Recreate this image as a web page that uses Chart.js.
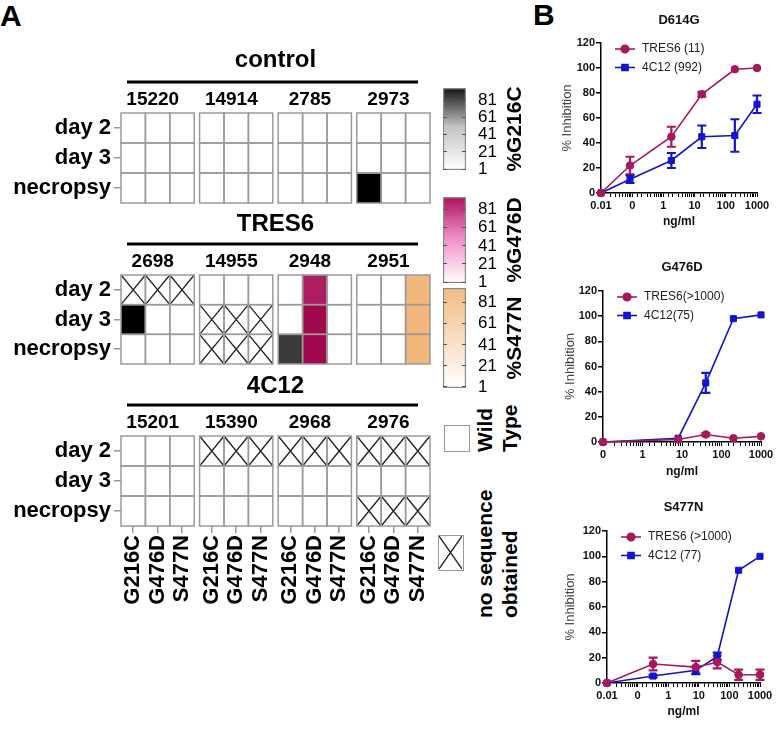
<!DOCTYPE html>
<html>
<head>
<meta charset="utf-8">
<script src="https://cdn.jsdelivr.net/npm/chart.js@4.4.1/dist/chart.umd.min.js"></script>
<style>
  body { margin: 0; background: #fff; font-family: "Liberation Sans", Arial, sans-serif; }
  #page { position: relative; width: 776px; height: 730px; overflow: hidden; background: #fff; }
  canvas { position: absolute; }
  .tag { position: absolute; font-weight: bold; font-size: 30px; line-height: 1; }
  .key { position: absolute; border: 1.5px solid #999; box-sizing: border-box; }
  .key svg { display: block; }
  .vt { position: absolute; transform-origin: 0 0; transform: rotate(-90deg); font-weight: bold; font-size: 21px; line-height: 25px; white-space: nowrap; }
</style>
</head>
<body>
<div id="page">
  <div class="tag" style="left:0;top:1px">A</div>
  <div class="tag" style="left:533px;top:0">B</div>
  <div class="key" style="left:444px;top:425px;width:26px;height:27px"></div>
  <div class="vt" style="left:472px;top:452px">Wild<br>Type</div>
  <div class="key" style="left:438px;top:535px;width:26px;height:36px"><svg width="23" height="33"><path d="M0 0L23 33M23 0L0 33" stroke="#222" stroke-width="1.3" fill="none"/></svg></div>
  <div class="vt" style="left:472px;top:618px">no sequence<br>obtained</div>
</div>
<script>
const FONT = '"Liberation Sans", Arial, sans-serif';
Chart.defaults.font.family = FONT;
Chart.defaults.color = '#000';

// ---- panel A: sequencing heatmaps ----
const rowLabels = ['day 2', 'day 3', 'necropsy'];
const mutations = ['G216C', 'G476D', 'S477N'];
const controlIds = ['15220', '14914', '2785', '2973'];
const tres6Ids = ['2698', '14955', '2948', '2951'];
const mab4c12Ids = ['15201', '15390', '2968', '2976'];
// % of reads with the mutation; rows = time points, columns = 4 animals x 3 sites; null = no sequence obtained
const controlPct = [
  [0, 0, 0, 0, 0, 0, 0, 0, 0, 0, 0, 0],
  [0, 0, 0, 0, 0, 0, 0, 0, 0, 0, 0, 0],
  [0, 0, 0, 0, 0, 0, 0, 0, 0, 100, 0, 0]
];
const tres6Pct = [
  [null, null, null, 0, 0, 0, 0, 92, 0, 0, 0, 100],
  [100, 0, 0, null, null, null, 0, 100, 0, 0, 0, 100],
  [0, 0, 0, null, null, null, 85, 100, 0, 0, 0, 100]
];
const mab4c12Pct = [
  [0, 0, 0, null, null, null, null, null, null, null, null, null],
  [0, 0, 0, 0, 0, 0, 0, 0, 0, 0, 0, 0],
  [0, 0, 0, 0, 0, 0, 0, 0, 0, null, null, null]
];
// colour ramps (0% -> 100%) for G216C, G476D, S477N
const ramps = [
  ['#ffffff', '#c4c4c4', '#000000'],
  ['#ffffff', '#f08cc8', '#a0084e'],
  ['#ffffff', '#f2b77c']
];
const scaleTicks = [1, 21, 41, 61, 81];
const scaleTop = 95;

// ---- panel B: neutralisation curves (ng/ml vs % inhibition) ----
const d614gDose = [0.01, 0.085, 1.8, 17, 195, 1000];
const d614gTres6 = [0, 22, 45, 79, 99, 100];
const d614gTres6Err = [0, 7, 8, 2, 0, 0];
const d614g4c12 = [0, 11, 26, 45, 46, 71];
const d614g4c12Err = [0, 3, 6, 9, 13, 7];

const g476dDose = [0.1, 8, 40, 200, 1000];
const g476dTres6 = [0, 2, 6, 3, 4.5];
const g476dTres6Err = [0, 0, 1, 0, 0];
const g476d4c12 = [0, 3, 47, 98, 101];
const g476d4c12Err = [0, 0, 8, 0, 0];

const s477nDose = [0.01, 0.32, 8, 40, 200, 1000];
const s477nTres6 = [0, 15, 12.5, 16.5, 6.5, 6.5];
const s477nTres6Err = [0, 5, 5, 5, 4, 4];
const s477n4c12 = [0, 5.5, 10, 21, 89, 100];
const s477n4c12Err = [0, 1, 3, 3, 0, 0];

const doseTicksA = [0.01, 0.1, 1, 10, 100, 1000];
const doseTextA = ['0.01', '0', '1', '10', '100', '1000'];
const doseTicksB = [0.1, 1, 10, 100, 1000];
const doseTextB = ['0', '1', '10', '100', '1000'];

const page = document.getElementById('page');
function addCanvas(left, top, w, h) {
  const c = document.createElement('canvas');
  c.width = w; c.height = h;
  c.style.left = left + 'px'; c.style.top = top + 'px';
  c.style.width = w + 'px'; c.style.height = h + 'px';
  page.appendChild(c);
  return c;
}
function fixBox(size) {
  return s => {
    if (s.isHorizontal()) s.height = size; else s.width = size;
    s.paddingLeft = s.paddingRight = s.paddingTop = s.paddingBottom = 0;
  };
}
const rgb = hex => { const n = parseInt(hex.slice(1), 16); return [(n >> 16) & 255, (n >> 8) & 255, n & 255]; };
function rampColor(stops, v) {
  const t = Math.max(0, Math.min(1, v / 100)) * (stops.length - 1);
  const i = Math.min(Math.floor(t), stops.length - 2), f = t - i;
  const a = rgb(stops[i]), b = rgb(stops[i + 1]);
  return 'rgb(' + a.map((ch, k) => Math.round(ch + (b[k] - ch) * f)).join(',') + ')';
}

const GAP = 0.22;
const colStart = c => Math.floor(c / 3) * (3 + GAP) + (c % 3);
const xMax = 12 + 3 * GAP;

function heatPlugin(pct, lineY) {
  return {
    id: 'heat',
    afterDatasetsDraw(chart) {
      const {ctx, chartArea: ca, scales: {x, y}} = chart;
      const cell = (r, c) => {
        const x0 = x.getPixelForValue(colStart(c)), x1 = x.getPixelForValue(colStart(c) + 1);
        const y0 = y.getPixelForValue(r - 0.5), y1 = y.getPixelForValue(r + 0.5);
        return [x0, y0, x1, y1];
      };
      ctx.save();
      pct.forEach((row, r) => row.forEach((v, c) => {
        const [x0, y0, x1, y1] = cell(r, c);
        if (v === null) {
          ctx.strokeStyle = '#222'; ctx.lineWidth = 1.3;
          ctx.beginPath();
          ctx.moveTo(x0, y0); ctx.lineTo(x1, y1);
          ctx.moveTo(x1, y0); ctx.lineTo(x0, y1);
          ctx.stroke();
        } else if (v > 0) {
          ctx.fillStyle = rampColor(ramps[c % 3], v);
          ctx.fillRect(x0, y0, x1 - x0, y1 - y0);
        }
      }));
      ctx.strokeStyle = '#9a9a9a'; ctx.lineWidth = 1.5;
      pct.forEach((row, r) => row.forEach((v, c) => {
        const [x0, y0, x1, y1] = cell(r, c);
        ctx.strokeRect(x0, y0, x1 - x0, y1 - y0);
      }));
      // group bar under the title
      ctx.fillStyle = '#000';
      ctx.fillRect(ca.left + 6, lineY - 1.5, ca.width - 18, 3);
      ctx.restore();
    }
  };
}

const heatPanels = [
  {title: 'control', ids: controlIds, pct: controlPct, titleY: 60, lineY: 82, gridTop: 113, gridBottom: 203, axis: false},
  {title: 'TRES6', ids: tres6Ids, pct: tres6Pct, titleY: 224, lineY: 244, gridTop: 275, gridBottom: 364, axis: false},
  {title: '4C12', ids: mab4c12Ids, pct: mab4c12Pct, titleY: 386, lineY: 405, gridTop: 436, gridBottom: 526, axis: true}
];

heatPanels.forEach(p => {
  const top = p.titleY - 20;
  const h = p.gridBottom - top + (p.axis ? 90 : 6);
  const cv = addCanvas(0, top, 440, h);
  new Chart(cv, {
    type: 'scatter',
    data: {datasets: [{data: []}]},
    options: {
      responsive: false, animation: false, events: [],
      layout: {padding: {left: 0, right: 10, top: 0, bottom: p.axis ? 0 : 6}},
      plugins: {
        legend: {display: false}, tooltip: {enabled: false},
        title: {display: true, text: p.title, fullSize: false, color: '#000',
          font: {size: 24, weight: 'bold'}, padding: {top: 5.6, bottom: 2}}
      },
      scales: {
        x: {
          type: 'linear', position: 'bottom', min: 0, max: xMax, display: p.axis,
          afterFit: fixBox(p.axis ? 90 : 0),
          afterBuildTicks: s => { s.ticks = Array.from({length: 12}, (_, c) => ({value: colStart(c) + 0.5})); },
          ticks: {autoSkip: false, minRotation: 90, maxRotation: 90, padding: 2, color: '#000',
            font: {size: 22, weight: 'bold'}, callback: (v, i) => mutations[i % 3]},
          grid: {drawOnChartArea: false, tickLength: 7, color: '#999', lineWidth: 1.5},
          border: {display: false}
        },
        xTop: {
          type: 'linear', position: 'top', min: 0, max: xMax,
          afterFit: fixBox(p.gridTop - top - 36.4),
          afterBuildTicks: s => { s.ticks = p.ids.map((_, k) => ({value: k * (3 + GAP) + 1.3})); },
          ticks: {autoSkip: false, maxRotation: 0, padding: 2, color: '#000',
            font: {size: 19, weight: 'bold'}, callback: (v, i) => p.ids[i]},
          grid: {display: false, drawTicks: false},
          border: {display: false}
        },
        y: {
          type: 'category', labels: rowLabels, offset: true,
          afterFit: fixBox(121),
          ticks: {padding: 3, color: '#000', font: {size: 22, weight: 'bold'}},
          grid: {offset: false, drawOnChartArea: false, tickLength: 7, color: '#999', lineWidth: 1.5},
          border: {display: false}
        }
      }
    },
    plugins: [heatPlugin(p.pct, p.lineY - top)]
  });
});

// ---- colour keys ----
const colorKeys = [
  {title: '%G216C', ramp: ramps[0], top: 88, bottom: 170},
  {title: '%G476D', ramp: ramps[1], top: 197, bottom: 283},
  {title: '%S477N', ramp: ramps[2], top: 288, bottom: 388}
];
function keyTitle(text) {
  return {
    id: 'keyTitle',
    afterDraw(chart) {
      const {ctx, chartArea: ca} = chart;
      ctx.save();
      ctx.translate(ca.right + 49, (ca.top + ca.bottom) / 2);
      ctx.rotate(-Math.PI / 2);
      ctx.textAlign = 'center'; ctx.textBaseline = 'middle';
      ctx.fillStyle = '#000';
      ctx.font = 'bold 21px ' + FONT;
      ctx.fillText(text, 0, 0);
      ctx.restore();
    }
  };
}
colorKeys.forEach(k => {
  const cv = addCanvas(440, k.top - 12, 90, k.bottom - k.top + 24);
  const last = k.ramp[k.ramp.length - 1];
  new Chart(cv, {
    type: 'bar',
    data: {
      labels: [''],
      datasets: [{
        data: [scaleTop], barPercentage: 1, categoryPercentage: 1,
        borderColor: '#888', borderWidth: 1.5, borderSkipped: false,
        backgroundColor: c => {
          const y = c.chart.scales.y;
          if (!y || !c.chart.chartArea) return last;
          const p0 = y.getPixelForValue(0), p1 = y.getPixelForValue(100);
          if (!isFinite(p0) || !isFinite(p1)) return last;
          const g = c.chart.ctx.createLinearGradient(0, p0, 0, p1);
          k.ramp.forEach((col, i) => g.addColorStop(i / (k.ramp.length - 1), col));
          return g;
        }
      }]
    },
    options: {
      responsive: false, animation: false, events: [],
      layout: {padding: {left: 3, right: 0, top: 12, bottom: 12}},
      plugins: {legend: {display: false}, tooltip: {enabled: false}},
      scales: {
        x: {display: false},
        y: {
          position: 'right', min: 0, max: scaleTop,
          afterFit: fixBox(64),
          afterBuildTicks: s => { s.ticks = scaleTicks.map(v => ({value: v})); },
          ticks: {autoSkip: false, padding: 12, color: '#000', font: {size: 17, lineHeight: 1}},
          grid: {drawTicks: false, color: '#555', lineWidth: 1, z: 1},
          border: {display: false, dash: [4, 15]}
        }
      }
    },
    plugins: [keyTitle(k.title)]
  });
});

// ---- panel B charts ----
const seriesStyle = {
  tres6: {color: '#a8185a', point: 'circle', r: 3.8},
  mab: {color: '#1414cc', point: 'rect', r: 4.3}
};
const errorBars = {
  id: 'errorBars',
  beforeDatasetsDraw(chart) {
    const {ctx, scales: {x, y}} = chart;
    ctx.save();
    chart.data.datasets.forEach(ds => {
      ctx.strokeStyle = ds.borderColor; ctx.lineWidth = 2.2;
      ds.data.forEach((p, j) => {
        const e = ds.errors[j];
        if (!e) return;
        const px = x.getPixelForValue(p.x);
        const lo = y.getPixelForValue(p.y - e), hi = y.getPixelForValue(p.y + e);
        ctx.beginPath();
        ctx.moveTo(px, lo); ctx.lineTo(px, hi);
        ctx.moveTo(px - 4.5, lo); ctx.lineTo(px + 4.5, lo);
        ctx.moveTo(px - 4.5, hi); ctx.lineTo(px + 4.5, hi);
        ctx.stroke();
      });
    });
    ctx.restore();
  }
};
const doseLegend = {
  id: 'doseLegend',
  afterDraw(chart) {
    const {ctx, chartArea: ca} = chart;
    ctx.save();
    chart.data.datasets.forEach((ds, i) => {
      const yy = ca.top + 6 + i * 18.5;
      const x0 = ca.left + 14, x1 = ca.left + 34;
      ctx.strokeStyle = ds.borderColor; ctx.fillStyle = ds.backgroundColor; ctx.lineWidth = 1.6;
      ctx.beginPath(); ctx.moveTo(x0, yy); ctx.lineTo(x1, yy); ctx.stroke();
      Chart.helpers.drawPoint(ctx, {pointStyle: ds.pointStyle, radius: ds.pointRadius, borderWidth: 1, rotation: 0}, (x0 + x1) / 2, yy);
      ctx.fillStyle = '#222'; ctx.font = '12px ' + FONT; ctx.textBaseline = 'middle'; ctx.textAlign = 'left';
      ctx.fillText(ds.label, ca.left + 41, yy);
    });
    ctx.restore();
  }
};

const doseCharts = [
  {title: 'D614G', box: [530, 0, 246, 230], area: [601, 43, 757, 193], titleY: 20, yTitleX: 567,
   dose: d614gDose, ticks: doseTicksA, text: doseTextA,
   series: [
     {label: 'TRES6 (11)', y: d614gTres6, err: d614gTres6Err, kind: 'tres6'},
     {label: '4C12 (992)', y: d614g4c12, err: d614g4c12Err, kind: 'mab'}]},
  {title: 'G476D', box: [530, 240, 246, 240], area: [603, 291, 761, 442], titleY: 267, yTitleX: 570,
   dose: g476dDose, ticks: doseTicksB, text: doseTextB,
   series: [
     {label: 'TRES6(>1000)', y: g476dTres6, err: g476dTres6Err, kind: 'tres6'},
     {label: '4C12(75)', y: g476d4c12, err: g476d4c12Err, kind: 'mab'}]},
  {title: 'S477N', box: [530, 480, 246, 240], area: [607, 531, 760, 683], titleY: 507, yTitleX: 570,
   dose: s477nDose, ticks: doseTicksA, text: doseTextA,
   series: [
     {label: 'TRES6 (>1000)', y: s477nTres6, err: s477nTres6Err, kind: 'tres6'},
     {label: '4C12 (77)', y: s477n4c12, err: s477n4c12Err, kind: 'mab'}]}
];

doseCharts.forEach(d => {
  const [L, T, W, H] = d.box;
  const [aL, aT, aR, aB] = d.area;
  const pt = d.titleY - T - 7.8;
  const pb = aT - T - pt - 15.6;
  const cv = addCanvas(L, T, W, H);
  const tickText = v => {
    const i = d.ticks.findIndex(t => Math.abs(Math.log10(t) - Math.log10(v)) < 1e-6);
    return i >= 0 ? d.text[i] : '';
  };
  new Chart(cv, {
    type: 'scatter',
    data: {
      datasets: d.series.map(s => ({
        label: s.label,
        data: d.dose.map((x, i) => ({x: x, y: s.y[i]})),
        errors: s.err,
        showLine: true, clip: false,
        borderColor: seriesStyle[s.kind].color,
        backgroundColor: seriesStyle[s.kind].color,
        pointStyle: seriesStyle[s.kind].point,
        pointRadius: seriesStyle[s.kind].r,
        pointBorderWidth: 1, borderWidth: 1.6
      }))
    },
    options: {
      responsive: false, animation: false, events: [],
      layout: {padding: {left: 0, top: 0, bottom: 0, right: L + W - aR}},
      plugins: {
        legend: {display: false}, tooltip: {enabled: false},
        title: {display: true, text: d.title, fullSize: false, color: '#111',
          font: {size: 13, weight: 'bold'}, padding: {top: pt, bottom: pb}}
      },
      scales: {
        x: {
          type: 'logarithmic', min: d.ticks[0], max: 1000,
          afterFit: fixBox(T + H - aB),
          ticks: {autoSkip: false, maxRotation: 0, padding: 2, color: '#111',
            font: {size: 11, weight: 'bold'}, callback: tickText},
          grid: {drawOnChartArea: false, tickLength: 4, color: '#000', lineWidth: 1},
          border: {color: '#000', width: 1.5},
          title: {display: true, text: 'ng/ml', color: '#111', font: {size: 12, weight: 'bold'}, padding: {top: 0, bottom: 0.8}}
        },
        y: {
          min: 0, max: 120,
          afterFit: fixBox(aL - L),
          ticks: {stepSize: 20, padding: 1, color: '#111', font: {size: 11, weight: 'bold'}},
          grid: {drawOnChartArea: false, tickLength: 5, color: '#000', lineWidth: 1.5},
          border: {color: '#000', width: 1.5},
          title: {display: true, text: '% Inhibition', color: '#444', font: {size: 13}, padding: {top: d.yTitleX - L - 7.8, bottom: 0}}
        }
      }
    },
    plugins: [errorBars, doseLegend]
  });
});
</script>
</body>
</html>
